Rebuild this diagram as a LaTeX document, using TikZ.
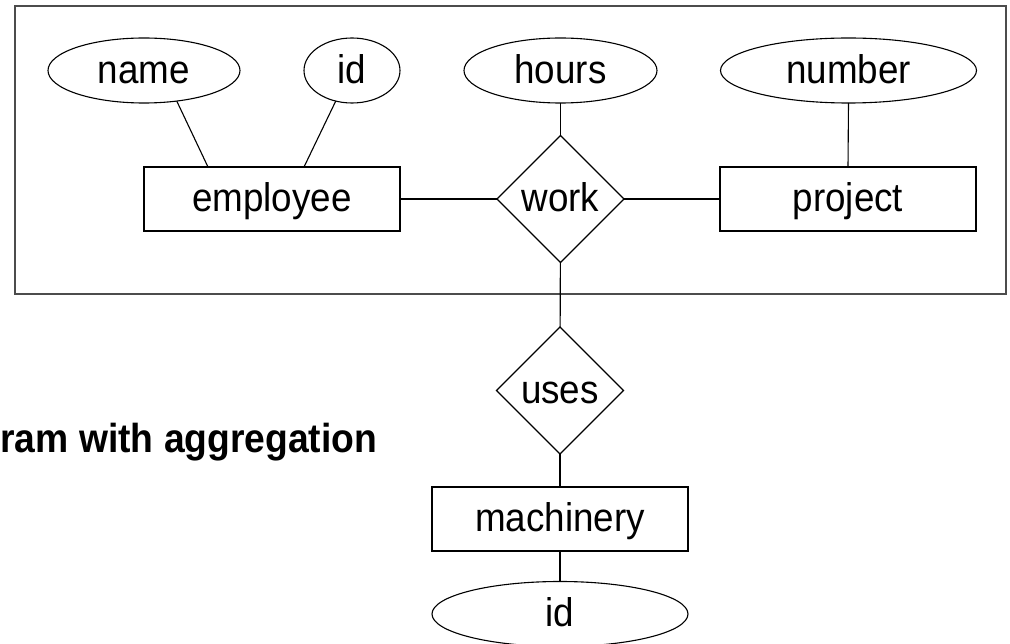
\documentclass[tikz,border=0pt]{standalone}
\usepackage{fontspec}
\setmainfont{Liberation Sans}[FakeStretch=0.92]
\usetikzlibrary{shapes.geometric}
\begin{document}
\begin{tikzpicture}[x=1pt,y=-1pt,
  every node/.style={inner sep=0pt, outer sep=0pt,
    font=\fontsize{40}{48}\selectfont, text height=25.5pt, text depth=0pt},
  entity/.style={draw, line width=1.1pt, rectangle, minimum width=256pt, minimum height=64pt},
  attr/.style={draw, line width=1.1pt, ellipse, minimum height=65pt},
  rel/.style={draw, line width=1.1pt, diamond, minimum width=127pt, minimum height=127pt},
  link/.style={line width=1.1pt},
  aggbox/.style={draw=black!70, line width=2pt, rectangle},
]
\useasboundingbox (0,0) rectangle (1010,644);

% aggregation box around the work relationship
\node[aggbox, minimum width=991pt, minimum height=288pt] (agg) at (510.5,150) {};

% attributes
\node[attr, minimum width=192pt] (name) at (144,70.5) {name};
\node[attr, minimum width=96pt] (eid) at (352,70.5) {id};
\node[attr, minimum width=193pt] (hours) at (560.5,70.5) {hours};
\node[attr, minimum width=256pt] (number) at (848.5,70.5) {number};

% entities and relationships
\node[entity] (employee) at (272,199) {employee};
\node[rel] (work) at (560.5,199) {work};
\node[entity] (project) at (848,199) {project};
\node[rel] (uses) at (560,390.5) {uses};
\node[entity] (machinery) at (560,519) {machinery};
\node[attr, minimum width=256pt] (mid) at (560,614) {id};

% caption
\node[font=\bfseries\fontsize{40.5}{48}\selectfont, anchor=base west] (caption) at (0.5,452) {ram with aggregation};

% connectors
\draw[link] (name.-43) -- ([xshift=64pt]employee.north west);
\draw[link] (eid.-118) -- ([xshift=160pt]employee.north west);
\draw[link] (hours) -- (work);
\draw[link] (number.south) -- (project.north);
\draw[link] (employee) -- (work);
\draw[link] (work) -- (project);
\draw[link] (work) -- (uses);
\draw[link] (uses) -- (machinery);
\draw[link] (machinery) -- (mid);
\end{tikzpicture}
\end{document}
